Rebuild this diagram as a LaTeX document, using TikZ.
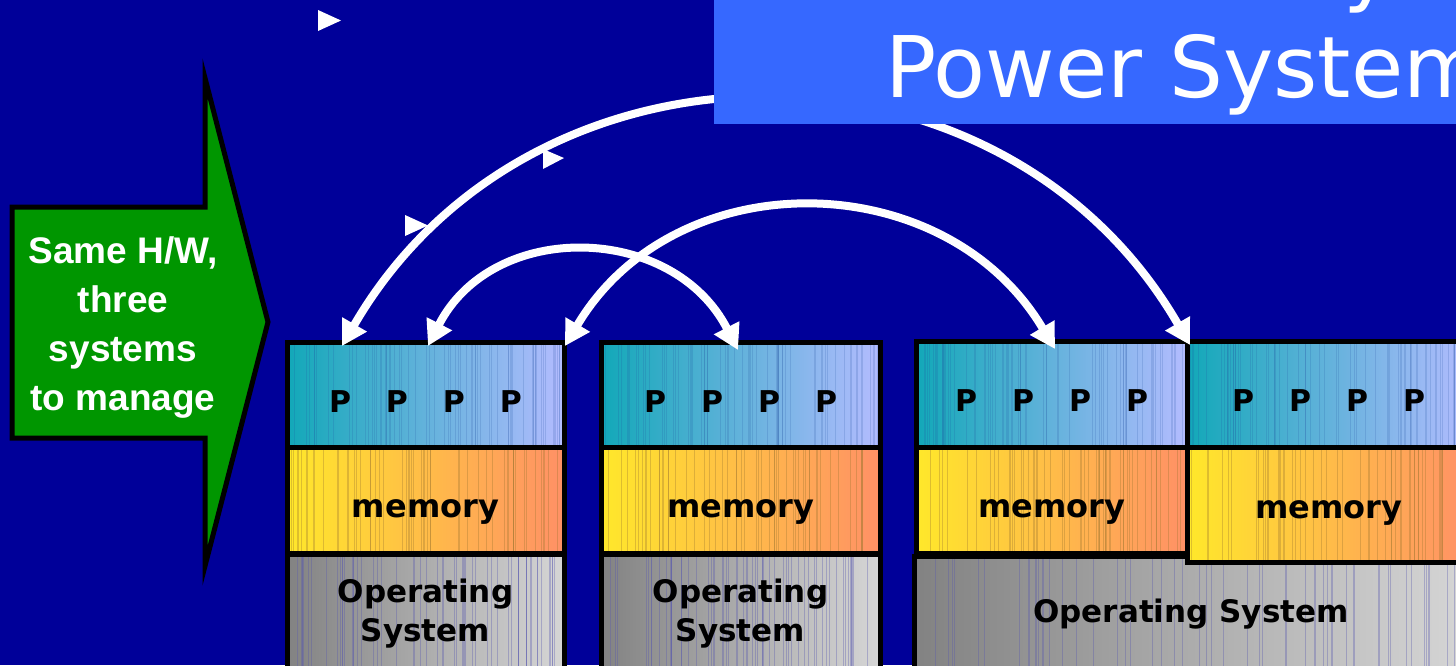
\documentclass[tikz,border=0pt]{standalone}
\usepackage{fontspec}
\setmainfont{DejaVu Sans}
\newfontfamily\calloutfont{Liberation Sans}
\usetikzlibrary{arrows.meta,calc}
\definecolor{slidebg}{HTML}{000099}
\definecolor{titlebox}{HTML}{3668FF}
\definecolor{arrowgreen}{HTML}{009600}
\definecolor{cpuL}{HTML}{12A8B8}
\definecolor{cpuR}{HTML}{B4BCFF}
\definecolor{memL}{HTML}{FFE82A}
\definecolor{memR}{HTML}{FF9066}
\definecolor{osL}{HTML}{828282}
\definecolor{osR}{HTML}{D6D6D6}
\definecolor{memstreak}{HTML}{A07830}
\definecolor{osstreak}{HTML}{5858B0}
\definecolor{cpustreak}{HTML}{2050A0}
\pgfmathsetseed{4711}
\tikzset{
  streaks/.style n args={3}{path picture={
    \foreach \k in {1,...,#2}{
      \pgfmathsetmacro\r{rnd}
      \draw[draw=#1, opacity=#3, line width=0.7pt]
        ($(path picture bounding box.north west)!\r!(path picture bounding box.north east)$)
        -- ++(0,240);
    }}},
  layer/.style={draw=black, line width=5pt, outer sep=0pt, inner sep=0pt},
  cpurow/.style={layer, left color=cpuL, right color=cpuR,
    streaks={cpustreak}{70}{0.18},
    text height=35pt, text depth=0pt,
    font=\fontsize{30}{36}\selectfont\bfseries},
  memrow/.style={layer, left color=memL, right color=memR,
    streaks={memstreak}{55}{0.35},
    text height=34pt, text depth=0pt,
    font=\fontsize{32}{38}\selectfont\bfseries},
  osrow/.style={layer, left color=osL, right color=osR, align=center,
    streaks={osstreak}{60}{0.35},
    font=\fontsize{31}{39}\selectfont\bfseries},
  link/.style={draw=white, line width=8pt,
    {Triangle[width=27pt,length=25pt]}-{Triangle[width=27pt,length=25pt]}},
  bullet/.style={fill=white},
}
\newcommand{\cpus}{P\hspace{35pt}P\hspace{35pt}P\hspace{35pt}P}
\begin{document}
\begin{tikzpicture}[x=1pt,y=-1pt]
\useasboundingbox (0,0) rectangle (1456,665);
\clip (0,0) rectangle (1456,665);
\fill[slidebg] (0,0) rectangle (1456,665);

% system columns: processors, memory, operating system
\node[cpurow, minimum width=277pt, minimum height=105pt] (p1) at (425.5,394.5) {\cpus};
\node[memrow, minimum width=277pt, minimum height=106pt] (m1) at (425.5,500) {memory};
\node[osrow, minimum width=277pt, minimum height=119pt] (o1) at (425.5,614) {Operating\\System};

\node[cpurow, minimum width=279pt, minimum height=105pt] (p2) at (740.5,394.5) {\cpus};
\node[memrow, minimum width=279pt, minimum height=106pt] (m2) at (740.5,500) {memory};
\node[osrow, minimum width=279pt, minimum height=119pt] (o2) at (740.5,614) {Operating\\System};

\node[osrow, minimum width=554pt, minimum height=117pt] (o3) at (1191,614.5) {Operating System};
\node[cpurow, minimum width=271pt, minimum height=106pt] (p3) at (1051.5,394) {\cpus};
\node[memrow, minimum width=271pt, minimum height=106pt] (m3) at (1051.5,500) {memory};
\node[cpurow, minimum width=283pt, minimum height=106pt] (p4) at (1328.5,394) {\cpus};
\node[memrow, minimum width=283pt, minimum height=115pt, text height=27pt] (m4) at (1328.5,504.5) {memory};

% widest link passes behind the title banner
\draw[link] ($(p1.north west)+(55,4)$) .. controls (531,20) and (1002,20) .. ($(p4.north west)+(3,4)$);

% title banner
\fill[titlebox] (714,0) rectangle (1456,124);
\node[anchor=base west, inner sep=0pt, text=white, font=\fontsize{85}{100}\selectfont] (title) at (885,97) {Power System};
\node[anchor=base west, inner sep=0pt, text=white, font=\fontsize{85}{100}\selectfont] (titletail) at (1343,-5) {y};

% links between partitions
\draw[link] ($(p1.north west)+(141,4)$) .. controls (493,219) and (673,223) .. ($(p2.north west)+(137,8)$);
\draw[link] ($(p1.north east)+(1,4)$) .. controls (675,160) and (945,164) .. ($(p3.north west)+(139,8)$);

% bullet markers
\fill[bullet] (318,10) -- (341,20.5) -- (318,31) -- cycle;
\fill[bullet] (405,215) -- (428,225.5) -- (405,236) -- cycle;
\fill[bullet] (543,149) -- (564,158) -- (543,169) -- cycle;

% callout arrow
\draw[fill=arrowgreen, draw=black, line width=5pt, line join=miter]
  (12,207) -- (205,207) -- (205,78) -- (268,322) -- (205,566) -- (205,438) -- (12,438) -- cycle;
\node[text=white, align=center, inner sep=0pt,
  font=\calloutfont\fontsize{37}{49}\selectfont\bfseries] (callout) at (123,328)
  {Same H/W,\\three\\systems\\to manage};
\end{tikzpicture}
\end{document}
